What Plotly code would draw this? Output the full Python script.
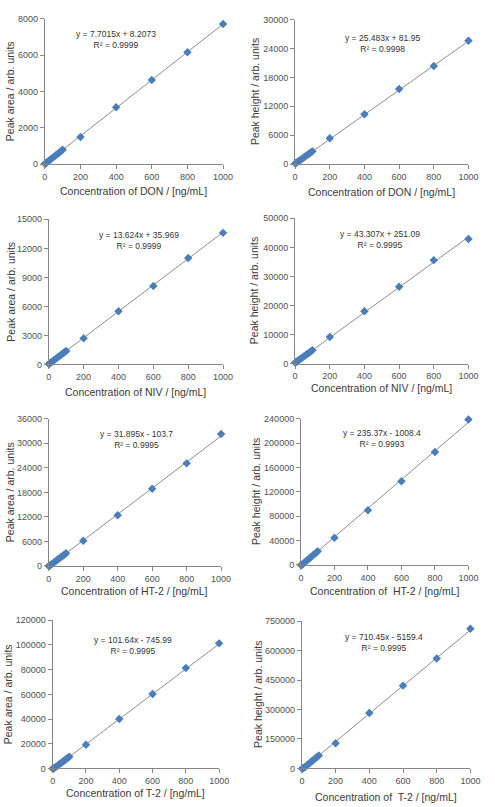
import plotly.graph_objects as go

W, H = 495, 807

# ---- data ----
conc = [1, 2, 5, 10, 20, 30, 40, 50, 60, 70, 80, 90, 100, 200, 400, 600, 800, 1000]

don_area = [15, 24, 46, 86, 160, 240, 318, 392, 468, 545, 626, 700, 780, 1490, 3130, 4630, 6160, 7710]
don_height = [100, 135, 210, 340, 590, 850, 1100, 1360, 1620, 1880, 2120, 2380, 2630, 5350, 10350, 15600, 20400, 25650]
niv_area = [50, 63, 105, 172, 310, 445, 580, 720, 855, 990, 1130, 1260, 1400, 2700, 5500, 8100, 11000, 13600]
niv_height = [290, 340, 470, 690, 1120, 1560, 1990, 2420, 2850, 3290, 3720, 4150, 4600, 9150, 18000, 26400, 35600, 42900]
ht2_area = [0, 0, 60, 220, 540, 860, 1170, 1500, 1810, 2130, 2450, 2760, 3100, 6150, 12400, 18900, 25100, 32300]
ht2_height = [0, 0, 170, 1350, 3700, 6050, 8400, 10750, 13100, 15450, 17800, 20150, 22500, 44600, 90000, 137600, 185500, 239000]
t2_area = [0, 0, 0, 270, 1290, 2300, 3320, 4330, 5350, 6370, 7380, 8400, 9420, 19200, 40000, 60200, 81300, 101300]
t2_height = [0, 0, 0, 1950, 9050, 16150, 23260, 30360, 37470, 44570, 51680, 58780, 65890, 128500, 282500, 422000, 560000, 712000]

series = [don_area, don_height, niv_area, niv_height, ht2_area, ht2_height, t2_area, t2_height]

slopes = [7.7015, 25.483, 13.624, 43.307, 31.895, 235.37, 101.64, 710.45]
intercepts = [8.2073, 81.95, 35.969, 251.09, -103.7, -1008.4, -745.99, -5159.4]
r2_labels = ["0.9999", "0.9998", "0.9999", "0.9995", "0.9995", "0.9993", "0.9995", "0.9995"]

x_titles = ["Concentration of DON / [ng/mL]", "Concentration of DON / [ng/mL]",
            "Concentration of NIV / [ng/mL]", "Concentration of NIV / [ng/mL]",
            "Concentration of HT-2 / [ng/mL]", "Concentration of  HT-2 / [ng/mL]",
            "Concentration of T-2 / [ng/mL]", "Concentration of  T-2 / [ng/mL]"]
y_titles = ["Peak area / arb. units", "Peak height / arb. units"] * 4

y_max = [8000, 30000, 15000, 50000, 36000, 240000, 120000, 750000]
y_step = [2000, 6000, 3000, 10000, 6000, 40000, 20000, 150000]
x_ticks = [0, 200, 400, 600, 800, 1000]

# ---- layout (pixel boxes) ----
boxes = [  # x0, x1, y0(top), y1(bottom)
    (43, 226, 14, 161), (300, 478, 15, 161),
    (47, 226, 217, 364), (300, 478, 216, 363),
    (47, 224, 419, 568), (306, 478, 419, 567),
    (51, 222, 623, 773), (307, 480, 624, 773),
]
eq_pos = [(116, 34.5), (390, 38.5), (139.5, 238), (387, 237.5),
          (137, 440), (389, 439), (134, 648.5), (391, 645.5)]
xt_pos = [188, 189, 392, 388, 593, 593, 798, 802]
yt_pos = [8, 259, 8, 258, 8, 260, 5, 262]

AX = "#868686"
FONT = "Liberation Sans, Arial, sans-serif"

fig = go.Figure()
layout = dict(width=W, height=H, margin=dict(l=0, r=0, t=0, b=0),
              paper_bgcolor="white", plot_bgcolor="white", showlegend=False,
              font=dict(family=FONT, color="#444"))
annotations = []

for i in range(8):
    n = "" if i == 0 else str(i + 1)
    x0, x1, yt, yb = boxes[i]
    xd = [x0 / W, x1 / W]
    yd = [1 - yb / H, 1 - yt / H]
    layout["xaxis" + n] = dict(domain=xd, anchor="y" + n, range=[0, 1000], tickvals=x_ticks,
                               showline=True, linecolor=AX, linewidth=1, ticks="outside",
                               ticklen=4, tickcolor=AX, showgrid=False, zeroline=False,
                               tickfont=dict(size=9, color="#505050"), fixedrange=True)
    yt_vals = list(range(0, y_max[i] + 1, y_step[i]))
    layout["yaxis" + n] = dict(domain=yd, anchor="x" + n, range=[0, y_max[i]], tickvals=yt_vals,
                               tickformat="d", showline=True, linecolor=AX, linewidth=1,
                               ticks="outside", ticklen=4, tickcolor=AX, showgrid=False,
                               zeroline=False, tickfont=dict(size=9, color="#505050"), fixedrange=True)
    # trendline from regression equation
    lx = [0, 1000]
    ly = [slopes[i] * v + intercepts[i] for v in lx]
    fig.add_trace(go.Scatter(x=lx, y=ly, mode="lines", line=dict(color="#8c8c8c", width=1),
                             xaxis="x" + n, yaxis="y" + n, hoverinfo="skip"))
    fig.add_trace(go.Scatter(x=conc, y=series[i], mode="markers", cliponaxis=False,
                             marker=dict(symbol="diamond", size=6.5, color="#4A7EBB",
                                         line=dict(width=0)),
                             xaxis="x" + n, yaxis="y" + n))
    sign = "+" if intercepts[i] >= 0 else "-"
    eq = f"y = {slopes[i]}x {sign} {abs(intercepts[i])}<br>R² = {r2_labels[i]}"
    ex, ey = eq_pos[i]
    annotations.append(dict(text=eq, x=ex / W, y=1 - ey / H, xref="paper", yref="paper",
                            xanchor="center", yanchor="middle", showarrow=False, align="center",
                            font=dict(size=8.5, color="#333", family=FONT)))
    annotations.append(dict(text=x_titles[i], x=(x0 + x1) / 2 / W, y=1 - xt_pos[i] / H,
                            xref="paper", yref="paper", xanchor="center", yanchor="middle",
                            showarrow=False, font=dict(size=10.5, color="#3a3a3a", family=FONT)))
    annotations.append(dict(text=y_titles[i], x=yt_pos[i] / W, y=1 - (yt + yb) / 2 / H,
                            xref="paper", yref="paper", xanchor="center", yanchor="middle",
                            textangle=-90, showarrow=False,
                            font=dict(size=10.5, color="#3a3a3a", family=FONT)))

layout["annotations"] = annotations
fig.update_layout(**layout)
fig.write_html("out.html")
